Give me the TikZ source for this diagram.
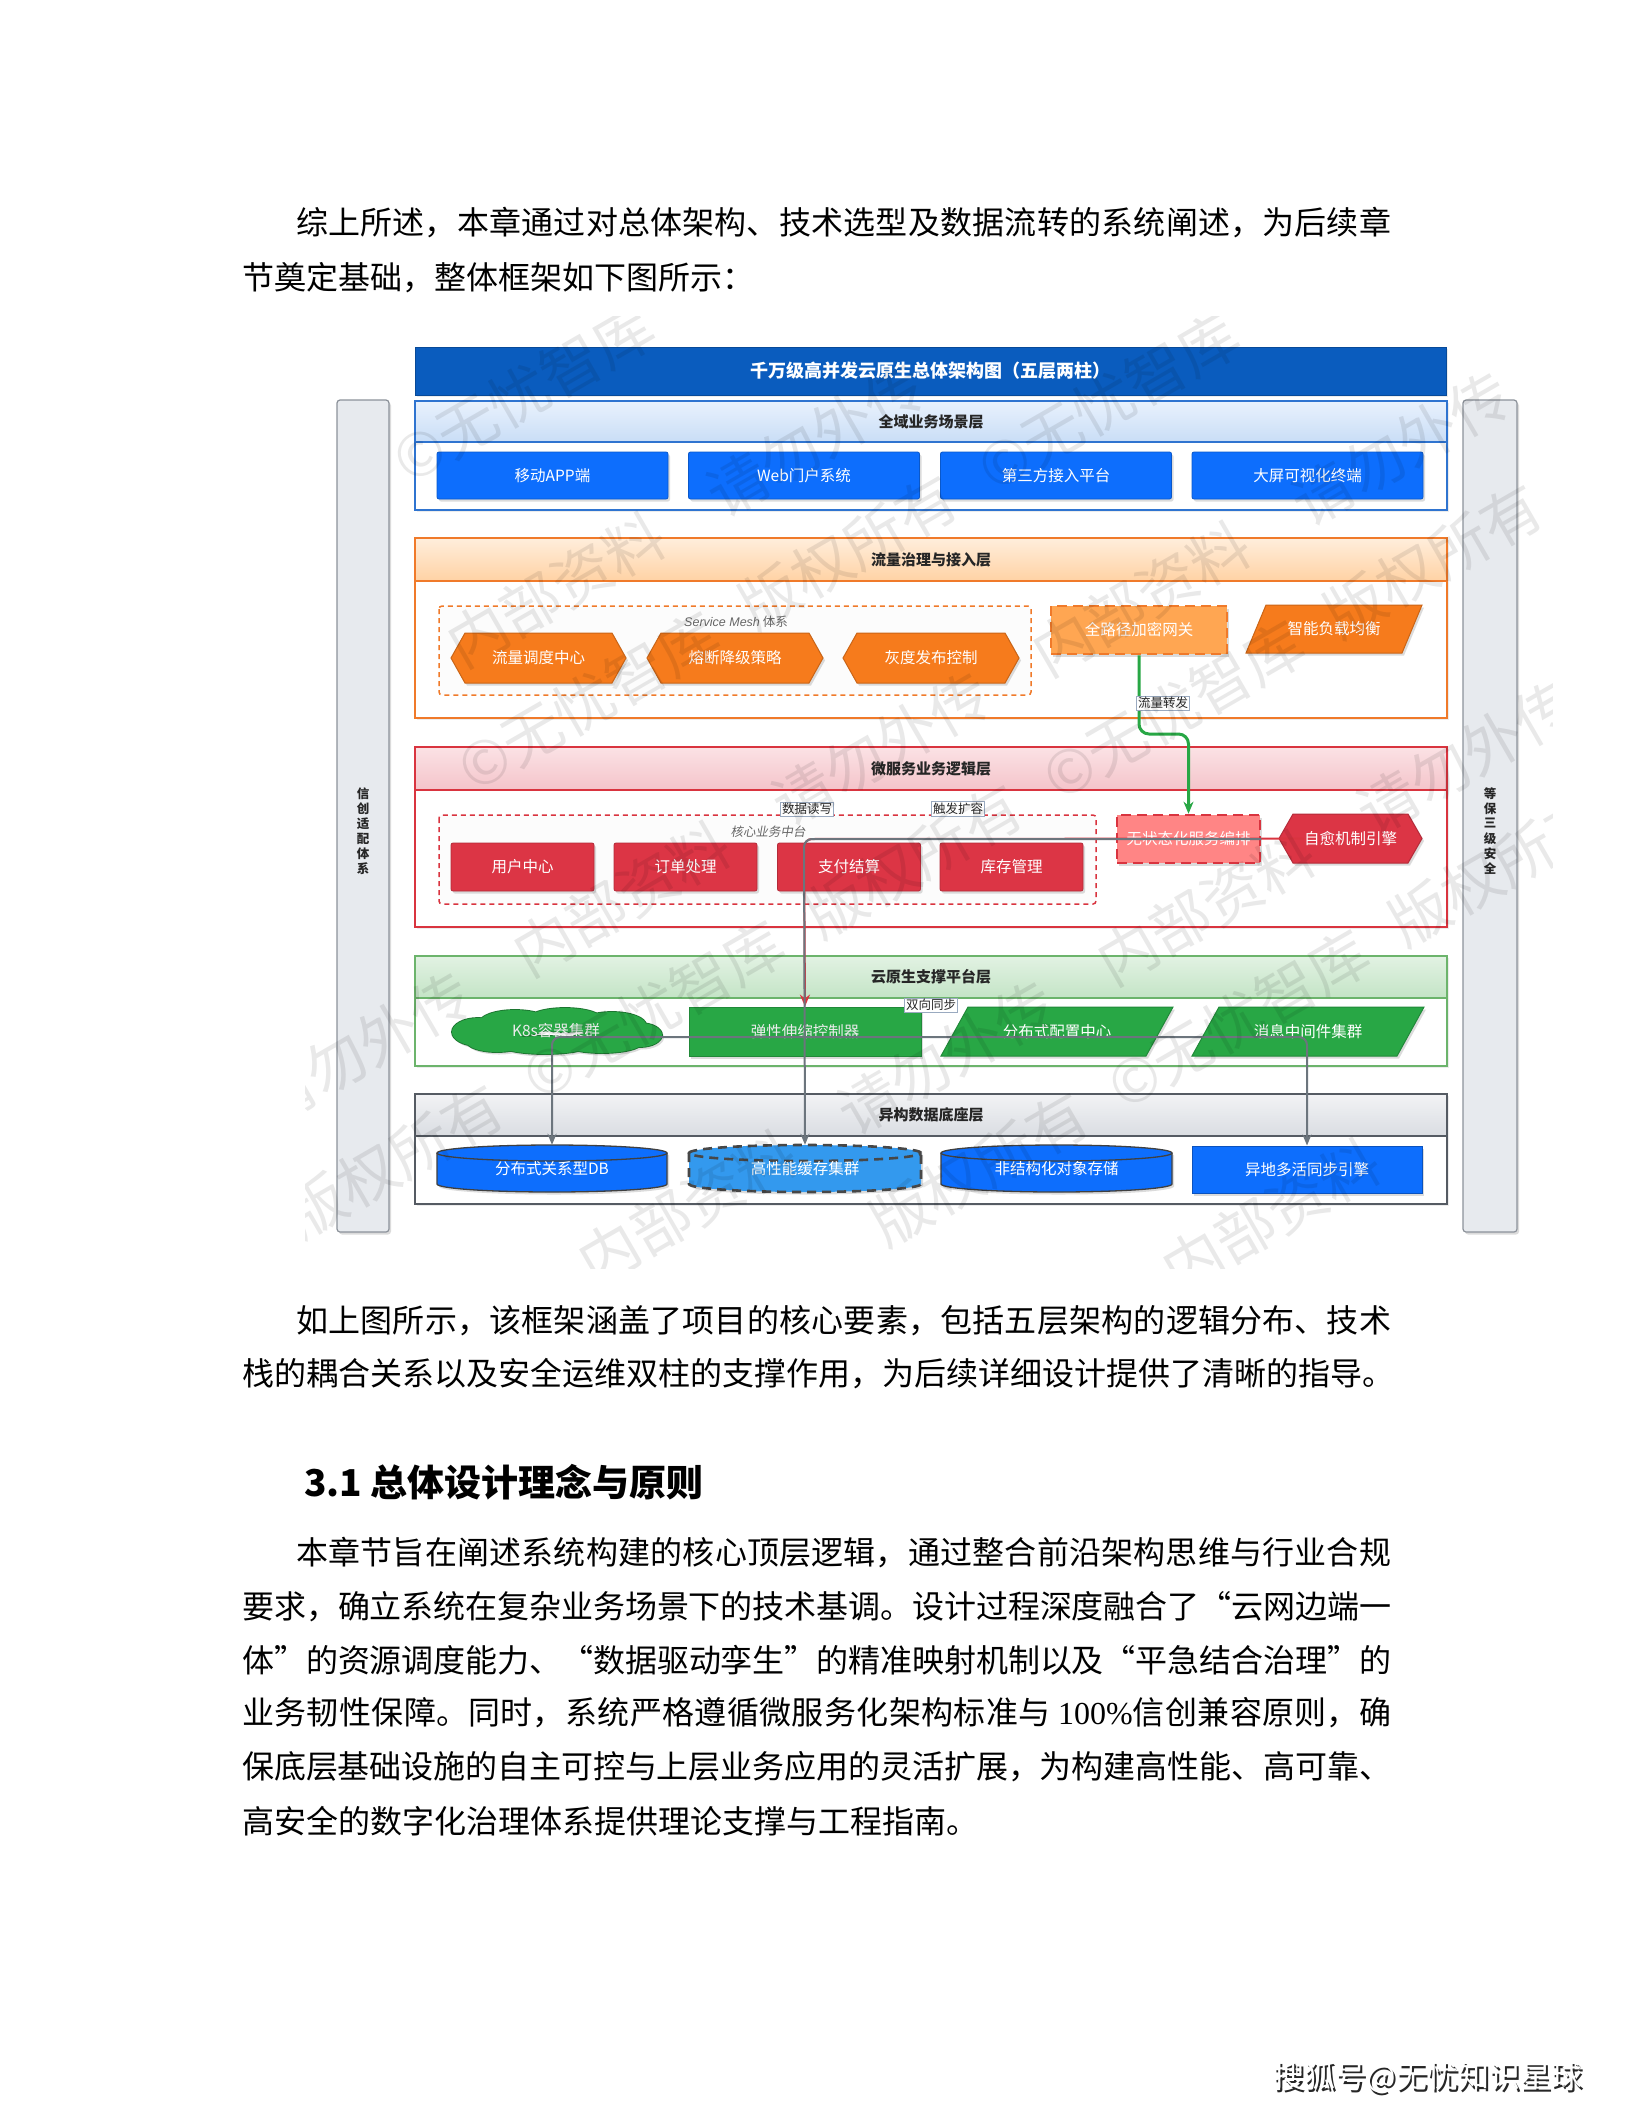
\documentclass[tikz,border=0pt]{standalone}
\usepackage{fontspec}
\setmainfont{Noto Sans CJK SC}
\newfontfamily\cjkit[FakeSlant=0.18]{Noto Sans CJK SC}
\newfontfamily\latserif{Liberation Serif}
\newfontfamily\latsans{Liberation Sans}
\usetikzlibrary{shapes.symbols,shadows,arrows.meta,calc}
\XeTeXlinebreaklocale "zh"
\XeTeXlinebreakskip=0pt plus 4pt minus 1pt

\definecolor{titleblue}{HTML}{0A5CBE}
\definecolor{btnblue}{HTML}{0D6EFD}
\definecolor{lOneBorder}{HTML}{2F74D0}
\definecolor{lOneTop}{HTML}{E9F2FD}
\definecolor{lOneBot}{HTML}{C9DDF6}
\definecolor{orangeA}{HTML}{F67B1C}
\definecolor{orangeLight}{HTML}{FFA652}
\definecolor{lTwoBorder}{HTML}{F07A2A}
\definecolor{lTwoTop}{HTML}{FFEEDC}
\definecolor{lTwoBot}{HTML}{FFD2A4}
\definecolor{redA}{HTML}{DC3545}
\definecolor{redLight}{HTML}{FF8585}
\definecolor{lThreeBorder}{HTML}{D9343F}
\definecolor{lThreeTop}{HTML}{FBE2E5}
\definecolor{lThreeBot}{HTML}{F4C4CA}
\definecolor{greenA}{HTML}{28A745}
\definecolor{lFourBorder}{HTML}{6CB46C}
\definecolor{lFourTop}{HTML}{E2F2E3}
\definecolor{lFourBot}{HTML}{C4E4C6}
\definecolor{cylLight}{HTML}{3399EE}
\definecolor{lFiveBorder}{HTML}{555B63}
\definecolor{lFiveTop}{HTML}{F2F3F5}
\definecolor{lFiveBot}{HTML}{DADDE2}
\definecolor{edgegray}{HTML}{6C757D}
\definecolor{labelborder}{HTML}{9AAAC0}
\definecolor{pillarfill}{HTML}{E7EAEE}
\definecolor{pillarborder}{HTML}{8C929A}

\newcommand\bodyfont{\fontsize{32}{38}\selectfont}

\newcommand\archlayer[8]{%
  \path[fill=white, layershadow] (415,#2) rectangle (1447,#4);
  \shade[top color=#6, bottom color=#7] (415,#2) rectangle (1447,#3);
  \draw[draw=#5, line width=1.6pt] (415,#2) rectangle (1447,#4) (415,#3) -- (1447,#3);
  \node[headtext] (#1) at (931,{(#2+#3)/2}) {#8};}

\newcommand\hexnode[7]{%
  \path[fill=#6, draw=#6!82!black, line width=1pt, shapeshadow]
    (#2,{(#3+#5)/2}) -- ({#2+14},#3) -- ({#4-14},#3) -- (#4,{(#3+#5)/2})
    -- ({#4-14},#5) -- ({#2+14},#5) -- cycle;
  \node[wtext] (#1) at ({(#2+#4)/2},{(#3+#5)/2}) {#7};}

\newcommand\paranode[8]{%
  \path[fill=#7, draw=#7!82!black, line width=1pt, shapeshadow]
    ({#2+#6},#3) -- (#4,#3) -- ({#4-#6},#5) -- (#2,#5) -- cycle;
  \node[wtext] (#1) at ({(#2+#4)/2},{(#3+#5)/2}) {#8};}

\newcommand\jline[5]{%
  \node[anchor=west, inner sep=0pt, text width=#4pt, align=justify, font=\bodyfont] (#1) at (#2,#3)
    {\parindent=0pt\parfillskip=0pt\relax\noindent #5\par};}
\newcommand\rline[4]{%
  \node[anchor=west, inner sep=0pt, font=\bodyfont] (#1) at (#2,#3) {#4};}

\newcommand\cloudpath{%
  (478,1032) ellipse[x radius=26pt, y radius=14pt]
  (515,1023) ellipse[x radius=36pt, y radius=13pt]
  (565,1020) ellipse[x radius=38pt, y radius=12pt]
  (612,1025) ellipse[x radius=34pt, y radius=13pt]
  (640,1035) ellipse[x radius=22pt, y radius=12pt]
  (602,1043) ellipse[x radius=40pt, y radius=10pt]
  (545,1045) ellipse[x radius=45pt, y radius=9pt]
  (497,1042) ellipse[x radius=30pt, y radius=10pt]}

\begin{document}
\begin{tikzpicture}[x=1pt,y=-1pt,
  shapeshadow/.style={drop shadow={opacity=0.28, shadow xshift=2pt, shadow yshift=-2.5pt}},
  layershadow/.style={drop shadow={opacity=0.15, shadow xshift=2pt, shadow yshift=-2pt}},
  headtext/.style={font=\bfseries\fontsize{15}{18}\selectfont, text=black!85, inner sep=0pt},
  wtext/.style={font=\fontsize{15.5}{18}\selectfont, text=white, inner sep=0pt},
  btn/.style={rectangle, fill=btnblue, draw=btnblue!80!black, line width=0.8pt, rounded corners=2pt,
    minimum width=231pt, minimum height=47pt, inner sep=0pt, shapeshadow,
    font=\fontsize{15.5}{18}\selectfont, text=white},
  redbox/.style={rectangle, fill=redA, draw=redA!82!black, line width=0.8pt, rounded corners=2pt,
    minimum width=143pt, minimum height=48pt, inner sep=0pt, shapeshadow,
    font=\fontsize{15.5}{18}\selectfont, text=white},
  greenbox/.style={rectangle, fill=greenA, draw=greenA!82!black, line width=0.8pt,
    minimum width=232pt, minimum height=49pt, inner sep=0pt, shapeshadow,
    font=\fontsize{15.5}{18}\selectfont, text=white!92!black},
  elabel/.style={fill=white, draw=labelborder, line width=0.8pt, inner sep=1.3pt,
    font=\fontsize{12.5}{14}\selectfont, text=black!85},
  edge/.style={draw=edgegray, line width=2pt, rounded corners=8pt},
  pillar/.style={fill=pillarfill, draw=pillarborder, line width=1.2pt, rounded corners=3pt, shapeshadow},
  pillarchar/.style={font=\bfseries\fontsize{12.5}{13}\selectfont, text=black!85, inner sep=0pt},
  grayital/.style={font=\fontsize{12.5}{14}\selectfont, text=black!60, inner sep=0pt},
  wm/.style={font=\fontsize{60}{60}\selectfont, text=black, text opacity=0.085, rotate=30, inner sep=0pt}
]
\useasboundingbox (0,0) rectangle (1632,2112);
\fill[white] (0,0) rectangle (1632,2112);

% ---------- body text above ----------
\jline{p1a}{296}{223}{1095}{综上所述，本章通过对总体架构、技术选型及数据流转的系统阐述，为后续章}
\rline{p1b}{242}{278}{节奠定基础，整体框架如下图所示：}

% ---------- pillars ----------
\path[pillar] (337,400) rectangle (389,1232);
\foreach \c [count=\k] in {信,创,适,配,体,系}
  \node[pillarchar] (lp\k) at (363,{778.5+15*\k}) {\c};
\path[pillar] (1463,400) rectangle (1517,1232);
\foreach \c [count=\k] in {等,保,三,级,安,全}
  \node[pillarchar] (rp\k) at (1490,{778.5+15*\k}) {\c};

% ---------- title ----------
\path[fill=titleblue, draw=titleblue!80!black, line width=1pt, layershadow] (415,347) rectangle (1446,395);
\node[font=\bfseries\fontsize{18}{20}\selectfont, text=white, inner sep=0pt] (title) at (930.5,371) {千万级高并发云原生总体架构图（五层两柱）};

% ---------- layer 1 ----------
\archlayer{lay1}{401}{442}{510}{lOneBorder}{lOneTop}{lOneBot}{全域业务场景层}
\node[btn] (app) at (552.5,475.5) {移动APP端};
\node[btn] (web) at (804,475.5) {Web门户系统};
\node[btn] (third) at (1056,475.5) {第三方接入平台};
\node[btn] (screen) at (1307.5,475.5) {大屏可视化终端};

% ---------- layer 2 ----------
\archlayer{lay2}{538}{581}{718}{lTwoBorder}{lTwoTop}{lTwoBot}{流量治理与接入层}
\draw[draw=lTwoBorder, fill=black!1, line width=1.5pt, dash pattern=on 5pt off 4pt, rounded corners=3pt] (439,606) rectangle (1031,695);
\node[grayital] (meshlabel) at (736,622) {{\latsans\itshape Service Mesh} 体系};
\hexnode{flow}{451}{633}{626}{683}{orangeA}{流量调度中心}
\hexnode{fuse}{647}{633}{823}{683}{orangeA}{熔断降级策略}
\hexnode{gray}{843}{633}{1019}{683}{orangeA}{灰度发布控制}
\node[rectangle, fill=orangeLight, draw=lTwoBorder, line width=2.6pt, dash pattern=on 10pt off 6pt,
  minimum width=176pt, minimum height=48pt, inner sep=0pt, shapeshadow,
  font=\fontsize{15.5}{18}\selectfont, text=white] (gw) at (1139,630) {全路径加密网关};
\paranode{lb}{1246}{605}{1422}{653}{20}{orangeA}{智能负载均衡}

% ---------- layer 3 ----------
\archlayer{lay3}{747}{790}{927}{lThreeBorder}{lThreeTop}{lThreeBot}{微服务业务逻辑层}
\draw[draw=lThreeBorder, fill=black!1, line width=1.5pt, dash pattern=on 5pt off 4pt, rounded corners=3pt] (439,815) rectangle (1096,904);
\node[grayital, font=\cjkit\fontsize{12.5}{14}\selectfont] (corelabel) at (768,832) {核心业务中台};
\node[redbox] (user) at (522.5,867) {用户中心};
\node[redbox] (order) at (685.5,867) {订单处理};
\node[redbox] (pay) at (849,867) {支付结算};
\node[redbox] (stock) at (1011.5,867) {库存管理};
\node[rectangle, fill=redLight, draw=lThreeBorder, line width=2.6pt, dash pattern=on 10pt off 6pt,
  minimum width=143pt, minimum height=48pt, inner sep=0pt, shapeshadow,
  font=\fontsize{15.5}{18}\selectfont, text=white] (svc) at (1188.5,839) {无状态化服务编排};
\hexnode{heal}{1279}{814}{1422}{863}{redA}{自愈机制引擎}

% ---------- layer 4 ----------
\archlayer{lay4}{956}{998}{1066}{lFourBorder}{lFourTop}{lFourBot}{云原生支撑平台层}
\path[fill=greenA!70!black, draw=greenA!70!black, line width=1.8pt, shapeshadow] \cloudpath;
\path[fill=greenA] \cloudpath;
\node[font=\fontsize{15.5}{18}\selectfont, text=white!92!black, inner sep=0pt,
  minimum width=209pt, minimum height=44pt] (k8s) at (556,1031) {K8s容器集群};
\node[greenbox] (elastic) at (805,1031.5) {弹性伸缩控制器};
\paranode{config}{941}{1007}{1173}{1056}{27}{greenA}{分布式配置中心}
\paranode{mq}{1192}{1007}{1424}{1056}{27}{greenA}{消息中间件集群}

% ---------- layer 5 ----------
\archlayer{lay5}{1094}{1136}{1204}{lFiveBorder}{lFiveTop}{lFiveBot}{异构数据底座层}
\path[fill=btnblue, shapeshadow] (437,1153) -- (437,1184) arc[start angle=180, end angle=360, x radius=115pt, y radius=8pt] -- (667,1153) arc[start angle=0, end angle=180, x radius=115pt, y radius=8pt] -- cycle;
\draw[black!75, line width=1.3pt] (437,1153) -- (437,1184) arc[start angle=180, end angle=360, x radius=115pt, y radius=8pt] -- (667,1153);
\draw[black!75, line width=1.3pt] (552,1153) ellipse[x radius=115pt, y radius=8pt];
\node[wtext, minimum width=230pt, minimum height=47pt] (db) at (552,1168.5) {分布式关系型DB};

\path[fill=cylLight, shapeshadow] (689,1153) -- (689,1184) arc[start angle=180, end angle=360, x radius=116pt, y radius=8pt] -- (921,1153) arc[start angle=0, end angle=180, x radius=116pt, y radius=8pt] -- cycle;
\draw[black!72, line width=2.6pt, dash pattern=on 9pt off 6pt] (689,1153) -- (689,1184) arc[start angle=180, end angle=360, x radius=116pt, y radius=8pt] -- (921,1153);
\draw[black!72, line width=2.6pt, dash pattern=on 9pt off 6pt] (805,1153) ellipse[x radius=116pt, y radius=8pt];
\node[wtext, minimum width=232pt, minimum height=47pt] (cache) at (805,1168.5) {高性能缓存集群};

\path[fill=btnblue, shapeshadow] (941,1153) -- (941,1184) arc[start angle=180, end angle=360, x radius=115.5pt, y radius=8pt] -- (1172,1153) arc[start angle=0, end angle=180, x radius=115.5pt, y radius=8pt] -- cycle;
\draw[black!75, line width=1.3pt] (941,1153) -- (941,1184) arc[start angle=180, end angle=360, x radius=115.5pt, y radius=8pt] -- (1172,1153);
\draw[black!75, line width=1.3pt] (1056.5,1153) ellipse[x radius=115.5pt, y radius=8pt];
\node[wtext, minimum width=231pt, minimum height=47pt] (obj) at (1056.5,1168.5) {非结构化对象存储};

\node[rectangle, fill=btnblue, draw=btnblue!75!black, line width=1pt, minimum width=230pt, minimum height=47pt,
  inner sep=0pt, shapeshadow, font=\fontsize{15.5}{18}\selectfont, text=white] (geo) at (1307,1169.5) {异地多活同步引擎};

% ---------- connectors ----------
\draw[draw=greenA, line width=3pt, rounded corners=10pt, -{Stealth[length=12pt,width=10pt]}]
  (gw.south) -- (1139,734) -- (1188.5,734) -- (svc.north);
\node[elabel] (lblflow) at (1163,703) {流量转发};

\draw[edge, draw=lThreeBorder, -{Stealth[length=12pt,width=10pt]}] (heal.west) -- (804,839) -- (elastic.north);
\draw[edge, -{Stealth[length=11pt,width=9pt]}] (svc.east) -- (804,839) -- (cache.north);
\node[elabel] (lblrw) at (807,809) {数据读写};
\node[elabel] (lblscale) at (958,809) {触发扩容};

\draw[edge, {Stealth[length=11pt,width=9pt]}-{Stealth[length=11pt,width=9pt]}]
  (db.north) -- (552,1037) -- (1307,1037) -- (geo.north);
\node[elabel] (lblsync) at (931,1005) {双向同步};

% ---------- watermark ----------
\begin{scope}
  \clip (305,316) rectangle (1552,1268);
  \foreach \t/\p/\wa/\wb [count=\r] in {
      489/165/内部资料/请勿外传, 789/67/内部资料/请勿外传, 1089/-31/内部资料/请勿外传,
      1389/-129/内部资料/请勿外传, 1689/-227/内部资料/请勿外传,
      602/137/©无忧智库/版权所有, 902/39/©无忧智库/版权所有, 1202/-59/©无忧智库/版权所有,
      1502/-157/©无忧智库/版权所有, 1802/-255/©无忧智库/版权所有} {
    \foreach \j in {-6,...,8} {
      \pgfmathsetmacro\sc{\p+300*\j+120}
      \pgfmathsetmacro\wx{0.5*\t+0.866*\sc}
      \pgfmathsetmacro\wy{0.866*\t-0.5*\sc}
      \pgfmathtruncatemacro\inside{((\wx>335)&&(\wx<1522)&&(\wy>346)&&(\wy<1238))?1:0}
      \ifnum\inside=1
        \ifodd\j
          \node[wm] (wm-\r-\j) at (\wx,\wy) {\wb};
        \else
          \node[wm] (wm-\r-\j) at (\wx,\wy) {\wa};
        \fi
      \fi
    }
  }
\end{scope}

% ---------- body text below ----------
\jline{p2a}{296}{1321}{1095}{如上图所示，该框架涵盖了项目的核心要素，包括五层架构的逻辑分布、技术}
\rline{p2b}{242}{1374}{栈的耦合关系以及安全运维双柱的支撑作用，为后续详细设计提供了清晰的指导。}
\node[anchor=west, inner sep=0pt, font=\bfseries\fontsize{37}{42}\selectfont] (heading) at (304,1482) {3.1 总体设计理念与原则};
\jline{p3a}{296}{1553}{1095}{本章节旨在阐述系统构建的核心顶层逻辑，通过整合前沿架构思维与行业合规}
\jline{p3b}{242}{1607}{1149}{要求，确立系统在复杂业务场景下的技术基调。设计过程深度融合了“云网边端一}
\jline{p3c}{242}{1660}{1149}{体”的资源调度能力、“数据驱动孪生”的精准映射机制以及“平急结合治理”的}
\jline{p3d}{242}{1713}{1149}{业务韧性保障。同时，系统严格遵循微服务化架构标准与 {\latserif 100\%}信创兼容原则，确}
\jline{p3e}{242}{1767}{1149}{保底层基础设施的自主可控与上层业务应用的灵活扩展，为构建高性能、高可靠、}
\rline{p3f}{242}{1821}{高安全的数字化治理体系提供理论支撑与工程指南。}

% ---------- footer mark ----------
\node[font=\fontsize{31}{34}\selectfont, text=black!85, inner sep=0pt] (markshadow) at (1430,2080) {搜狐号@无忧知识星球};
\node[font=\fontsize{31}{34}\selectfont, text=white, inner sep=0pt] (mark) at (1428,2077) {搜狐号@无忧知识星球};
\end{tikzpicture}
\end{document}
